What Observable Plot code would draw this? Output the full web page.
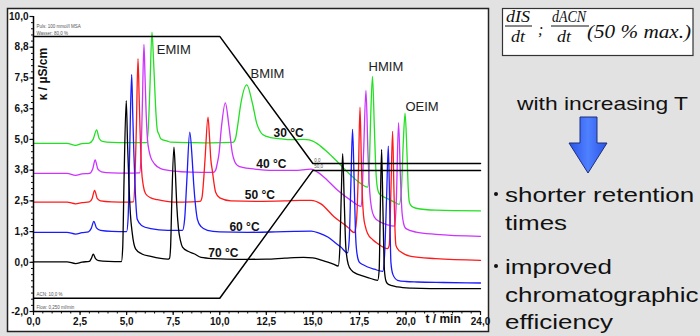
<!DOCTYPE html>
<html><head><meta charset="utf-8">
<script src="https://cdn.jsdelivr.net/npm/d3@7"></script>
<script src="https://cdn.jsdelivr.net/npm/@observablehq/plot@0.6"></script>
<style>
html,body{margin:0;padding:0;background:#e2e2e2;}
#wrap{position:relative;width:700px;height:336px;overflow:hidden;background:#e2e2e2;}
#bg{position:absolute;left:0;top:0;}
#chart{position:absolute;left:0;top:0;}
.sans{font-family:"Liberation Sans",Arial,sans-serif;}
.serif{font-family:"Liberation Serif","Times New Roman",serif;font-style:italic;}
</style></head><body>
<div id="wrap">
<svg id="bg" width="700" height="336">
  <defs>
    <linearGradient id="ag" x1="0" x2="1" y1="0" y2="0">
      <stop offset="0" stop-color="#2a55e8"/>
      <stop offset="0.5" stop-color="#4f80ff"/>
      <stop offset="1" stop-color="#2a55e8"/>
    </linearGradient>
  </defs>
  <rect x="7.5" y="8.5" width="481" height="323" fill="#fff" stroke="#222" stroke-width="1.5"/>
  <rect x="502.5" y="8.5" width="190.5" height="47" fill="#fff" stroke="#333" stroke-width="1.2"/>
  <g class="serif" fill="#111">
    <text x="506" y="22" font-size="16" textLength="24" lengthAdjust="spacingAndGlyphs">dIS</text>
    <line x1="505" x2="532" y1="26" y2="26" stroke="#111" stroke-width="1"/>
    <text x="511" y="42" font-size="16" textLength="14" lengthAdjust="spacingAndGlyphs">dt</text>
    <text x="538" y="35" font-size="16">;</text>
    <text x="552" y="22" font-size="16" textLength="34" lengthAdjust="spacingAndGlyphs">dACN</text>
    <line x1="551" x2="589" y1="26" y2="26" stroke="#111" stroke-width="1"/>
    <text x="557" y="42" font-size="16" textLength="14" lengthAdjust="spacingAndGlyphs">dt</text>
    <text x="587" y="38" font-size="18" textLength="104" lengthAdjust="spacingAndGlyphs">(50 % max.)</text>
  </g>
  <g class="sans" fill="#111">
    <text x="517" y="110" font-size="19" textLength="171" lengthAdjust="spacingAndGlyphs">with increasing T</text>
    <polygon points="580,117 597,117 597,143 607,143 588,173 569,143 580,143" fill="url(#ag)" stroke="#1c2f7a" stroke-width="1"/>
    <circle cx="496" cy="194" r="2"/>
    <circle cx="496" cy="266" r="2"/>
    <g transform="translate(505,0) scale(1.3,1)">
      <text x="0" y="202" font-size="20">shorter retention</text>
      <text x="0" y="230" font-size="20">times</text>
      <text x="0" y="274" font-size="20">improved</text>
      <text x="0" y="302" font-size="20">chromatographic</text>
      <text x="0" y="329" font-size="20">efficiency</text>
    </g>
  </g>
</svg>
<div id="chart"></div>
</div>
<script>
// ---- data (time in min, conductivity in µS/cm) ----
const temps = ["30 °C", "40 °C", "50 °C", "60 °C", "70 °C"];
const colors = ["#22e022", "#cc33ff", "#ff1a1a", "#1a1aff", "#000000"];

const trace30 = [[0,4.84],[1.8,4.84],[2.26,4.76],[2.6,4.83],[3.0,4.85],[3.2,5.0],[3.39,5.39],[3.52,5.05],[3.7,4.92],[4.2,4.88],[5.0,4.87],[6.08,4.87],[6.16,5.4],[6.25,7.1],[6.36,9.36],[6.44,8.3],[6.51,7.1],[6.58,6.0],[6.65,5.37],[6.74,5.2],[6.83,5.03],[7.19,4.93],[7.37,4.89],[8.5,4.87],[9.5,4.86],[10.7,4.88],[10.85,5.05],[10.95,5.5],[11.13,6.45],[11.45,7.22],[11.76,6.45],[11.99,5.64],[12.15,5.35],[12.3,5.2],[12.74,5.07],[13.3,5.02],[13.8,4.99],[14.5,5.0],[14.8,4.98],[15.25,4.82],[15.79,4.48],[16.33,4.08],[17.04,3.54],[17.58,3.2],[17.94,3.06],[18.03,3.9],[18.1,5.8],[18.2,7.56],[18.3,5.5],[18.38,3.8],[18.45,3.1],[18.57,2.79],[19.01,2.59],[19.37,2.45],[19.64,2.36],[19.75,2.9],[19.85,4.8],[19.95,6.07],[20.05,4.5],[20.12,3.0],[20.18,2.45],[20.3,2.28],[20.54,2.2],[21.6,2.12],[24,2.09]];
const trace40 = [[0,3.62],[1.8,3.62],[2.26,3.54],[2.6,3.6],[3.0,3.62],[3.18,3.8],[3.31,4.17],[3.45,3.8],[3.65,3.68],[4.2,3.64],[5.0,3.63],[5.7,3.64],[5.77,4.3],[5.84,6.25],[5.93,8.86],[5.99,7.5],[6.04,6.25],[6.12,5.0],[6.2,4.55],[6.29,4.28],[6.5,4.0],[6.83,3.81],[7.54,3.71],[8.44,3.67],[9.65,3.66],[9.78,3.75],[9.86,4.0],[9.96,4.42],[10.09,5.5],[10.3,6.49],[10.5,5.5],[10.68,4.42],[10.8,4.1],[10.95,3.94],[11.3,3.85],[11.67,3.81],[12.9,3.74],[14.0,3.74],[14.9,3.79],[15.25,3.67],[15.79,3.33],[16.33,2.93],[17.04,2.52],[17.6,2.28],[17.72,4.4],[17.85,6.99],[17.96,4.4],[18.05,2.9],[18.15,2.2],[18.3,1.84],[18.6,1.65],[19.01,1.52],[19.4,1.47],[19.48,2.5],[19.6,5.68],[19.7,3.5],[19.78,2.1],[19.9,1.5],[20.0,1.37],[20.54,1.23],[21.6,1.14],[24,1.06]];
const trace50 = [[0,2.45],[1.8,2.45],[2.26,2.38],[2.6,2.43],[3.0,2.46],[3.15,2.6],[3.28,2.93],[3.42,2.6],[3.6,2.5],[4.2,2.46],[5.0,2.45],[5.36,2.46],[5.44,3.2],[5.52,5.4],[5.61,8.29],[5.67,6.8],[5.72,5.4],[5.8,3.8],[5.9,3.1],[6.02,2.79],[6.3,2.62],[6.65,2.55],[7.53,2.45],[8.5,2.46],[8.95,2.48],[9.05,2.65],[9.12,3.2],[9.21,4.2],[9.37,5.91],[9.45,5.1],[9.52,4.2],[9.6,3.74],[9.78,2.85],[10.0,2.62],[10.6,2.5],[12.0,2.48],[13.5,2.5],[14.35,2.52],[14.9,2.52],[15.43,2.38],[16.15,1.84],[16.86,1.44],[17.22,1.21],[17.3,1.4],[17.38,2.2],[17.45,3.8],[17.53,6.31],[17.6,4.2],[17.65,2.8],[17.72,1.9],[17.82,1.45],[17.94,1.17],[18.2,0.93],[18.48,0.76],[19.01,0.56],[19.1,0.7],[19.18,2.6],[19.28,5.33],[19.35,3.0],[19.41,1.3],[19.46,0.69],[19.6,0.5],[19.73,0.42],[20.27,0.24],[21.6,0.15],[24,0.08]];
const trace60 = [[0,1.22],[1.8,1.22],[2.26,1.15],[2.6,1.21],[2.95,1.24],[3.1,1.38],[3.24,1.67],[3.38,1.4],[3.6,1.3],[4.2,1.26],[5.0,1.25],[5.08,1.8],[5.16,4.4],[5.27,7.64],[5.33,6.0],[5.39,4.4],[5.47,2.8],[5.57,1.75],[5.8,1.5],[6.29,1.37],[7.2,1.3],[8.0,1.3],[8.12,1.8],[8.23,3.3],[8.39,5.3],[8.52,4.2],[8.6,3.2],[8.7,2.3],[8.8,1.75],[9.0,1.45],[9.34,1.3],[10.0,1.24],[11.5,1.22],[13.0,1.24],[14.0,1.26],[14.9,1.27],[15.3,1.2],[15.8,1.03],[16.2,0.8],[16.5,0.62],[16.86,0.39],[16.95,0.9],[17.04,3.2],[17.13,5.41],[17.22,3.2],[17.3,1.0],[17.38,0.3],[17.49,0.01],[17.7,-0.1],[17.94,-0.19],[18.3,-0.28],[18.75,-0.37],[18.85,0.3],[18.96,2.7],[19.05,4.73],[19.12,2.5],[19.19,0.0],[19.3,-0.5],[19.55,-0.73],[20.0,-0.78],[20.6,-0.8],[22,-0.82],[24,-0.84]];
const trace70 = [[0,0.02],[1.8,0.02],[2.26,-0.05],[2.6,0.01],[3.0,0.04],[3.1,0.15],[3.21,0.33],[3.33,0.15],[3.5,0.07],[4.0,0.04],[4.72,0.03],[4.79,0.6],[4.86,3.3],[4.98,6.58],[5.05,4.8],[5.12,3.3],[5.2,2.0],[5.3,1.2],[5.48,0.55],[5.8,0.35],[6.3,0.24],[7.2,0.13],[7.3,0.16],[7.36,0.6],[7.42,2.35],[7.54,4.69],[7.62,3.6],[7.69,2.35],[7.78,1.4],[7.9,0.85],[8.0,0.62],[8.3,0.45],[8.62,0.35],[9.0,0.2],[9.7,0.15],[11.0,0.12],[12.5,0.13],[13.5,0.17],[14.5,0.2],[15.0,0.18],[15.5,0.08],[15.8,0.01],[16.1,-0.07],[16.36,-0.15],[16.45,0.6],[16.52,2.6],[16.6,4.42],[16.68,2.6],[16.77,0.6],[16.9,-0.08],[17.08,-0.33],[17.3,-0.45],[17.58,-0.53],[18.0,-0.63],[18.48,-0.73],[18.56,-0.3],[18.62,2.2],[18.69,4.59],[18.76,2.2],[18.84,-0.3],[18.92,-0.75],[19.01,-0.87],[19.25,-0.95],[19.55,-1.0],[20.3,-1.05],[21.3,-1.07],[24,-1.07]];

// eluent gradient profile (water upper line, ACN lower line)
const gradWater = [[0,9.19],[10,9.19],[15,4.02],[24,4.02]];
const gradACN = [[0,-1.46],[10,-1.46],[15,3.74],[24,3.74]];

// annotations
const peakNames = ["EMIM", "BMIM", "HMIM", "OEIM"];
const peakNameT = [7.53, 12.56, 18.92, 20.86];
const peakNameV = [8.65, 7.67, 7.97, 6.31];
const tempLabelT = [13.7, 12.77, 12.15, 11.33, 10.19];
const tempLabelV = [5.24, 3.98, 2.72, 1.44, 0.38];
const infoTexts = ["Puls: 100 mmol/l MSA", "Wasser: 80,0 %", "ACN: 10,0 %", "Flow: 0,250 ml/min", "0,0", "50,0"];
const infoT = [0.16, 0.16, 0.16, 0.16, 15.07, 15.07];
const infoV = [9.59, 9.31, -1.3, -1.82, 4.15, 3.88];

// axes
const xTickValues = [0, 2.5, 5, 7.5, 10, 12.5, 15, 17.5, 20, 24];
const xTickLabels = ["0,0", "2,5", "5,0", "7,5", "10,0", "12,5", "15,0", "17,5", "20,0", "24,0"];
const yTickValues = [10, 8.75, 7.5, 6.25, 5, 3.75, 2.5, 1.25, 0, -2];
const yTickLabels = ["10,0", "8,8", "7,5", "6,3", "5,0", "3,8", "2,5", "1,3", "0,0", "-2,0"];
const xMinor = d3.range(0, 24.001, 0.5);
const yMinor = d3.range(-2, 10.001, 0.25);

// ---- build ----
const traces = [trace30, trace40, trace50, trace60, trace70];
const rows = traces.flatMap((tr, i) => tr.map(([t, v]) => ({t, v, temp: temps[i]})));
const grad = [
  ...gradWater.map(([t, v]) => ({t, v, g: "water"})),
  ...gradACN.map(([t, v]) => ({t, v, g: "acn"}))
];
const xLab = new Map(xTickValues.map((d, i) => [d, xTickLabels[i]]));
const yLab = new Map(yTickValues.map((d, i) => [d, yTickLabels[i]]));
const idx = a => a.map((_, i) => i);

const chart = Plot.plot({
  width: 700,
  height: 336,
  marginLeft: 33,
  marginRight: 220,
  marginTop: 16,
  marginBottom: 25,
  style: {background: "transparent", fontFamily: "'Liberation Sans', Arial, sans-serif", fontSize: "10px", fontWeight: "bold", color: "#111"},
  x: {domain: [0, 24], axis: null},
  y: {domain: [-2, 10], axis: null},
  color: {domain: temps, range: colors},
  marks: [
    Plot.text(idx(infoTexts), {x: i => infoT[i], y: i => infoV[i], text: i => infoTexts[i], fontSize: 4.5, fontWeight: "normal", fill: "#555", textAnchor: "start"}),
    Plot.line(rows, {x: "t", y: "v", z: "temp", stroke: "temp", curve: "monotone-x", strokeWidth: 1.3}),
    Plot.line(grad, {x: "t", y: "v", z: "g", stroke: "#000", strokeWidth: 1.5}),
    Plot.text(idx(peakNames), {x: i => peakNameT[i], y: i => peakNameV[i], text: i => peakNames[i], fontSize: 13, fontWeight: "normal", fill: "#222"}),
    Plot.text(idx(temps), {x: i => tempLabelT[i], y: i => tempLabelV[i], text: i => temps[i], fontSize: 12, fontWeight: "bold", fill: "#111"}),
    Plot.axisX(xMinor, {tickSize: 2.5, tickFormat: () => "", label: null, strokeWidth: 1}),
    Plot.axisX(xTickValues, {tickSize: 4, tickPadding: 2, tickFormat: d => xLab.get(d), label: null, strokeWidth: 1.2}),
    Plot.axisY(yMinor, {tickSize: 2, tickFormat: () => "", label: null, strokeWidth: 1}),
    Plot.axisY(yTickValues, {tickSize: 3.5, tickPadding: 1.5, tickFormat: d => yLab.get(d), label: null, strokeWidth: 1.2}),
    Plot.ruleX([0], {stroke: "#000", strokeWidth: 1.5}),
    Plot.ruleY([-2], {stroke: "#000", strokeWidth: 1.5}),
    Plot.text(["κ / µS/cm"], {x: 0.54, y: 7.66, text: d => d, rotate: -90, fontSize: 12, fontWeight: "bold"}),
    Plot.text(["t / min"], {x: 21.99, y: -2.33, text: d => d, fontSize: 12, fontWeight: "bold"})
  ]
});
document.getElementById("chart").appendChild(chart);
</script>
</body></html>
